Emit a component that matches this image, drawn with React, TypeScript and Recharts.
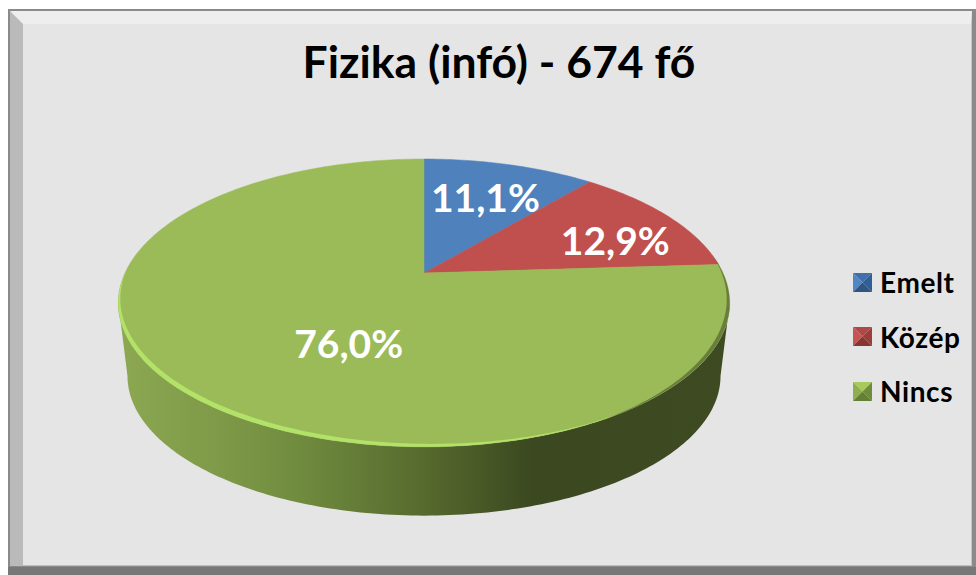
import { PieChart, Pie, Legend } from 'recharts';

const CATEGORIES = ['Emelt', 'Közép', 'Nincs'];
const PERCENTS = [11.1, 12.9, 76.0];
const COLORS = ['#4f81bd', '#c0504d', '#9bbb59'];
// top, left, right, bottom facets of the legend keys
const KEY_FACETS = [
  ['#3f70ac', '#4f86c6', '#2f5f98', '#2f5580'],
  ['#b04845', '#c85452', '#9c3d3a', '#86352f'],
  ['#a6ca5e', '#8fae4f', '#6f8c3c', '#667f36'],
];

const tableData = CATEGORIES.map((name, i) => ({ name, value: PERCENTS[i], fill: COLORS[i] }));

// tilted disc: perspective factor, vertical squash, depth of the side wall
const PERSPECTIVE = 0.208;
const SQUASH = 0.4605;
const WALL_SCALE = 0.97;
const WALL_SHIFT = 74;
const RIGHT_EDGE = 102;
const LEFT_EDGE = 258;

const LABEL_PLACES = [
  { r: 0.62, dx: 5, dy: -4 },
  { r: 0.7, dx: 16, dy: 8 },
  { r: 0.3, dx: -11, dy: 38 },
];

const project = (cx: number, cy: number, radius: number, theta: number, r = 1) => {
  const rad = (theta * Math.PI) / 180;
  const u = r * Math.sin(rad);
  const v = -r * Math.cos(rad);
  const w = 1 - PERSPECTIVE * v;
  return { x: cx + (radius * u) / w, y: cy + (radius * SQUASH * v) / w };
};

const rim = (cx: number, cy: number, radius: number, from: number, to: number) => {
  const pts = [];
  const steps = Math.max(2, Math.ceil(Math.abs(to - from)));
  for (let i = 0; i <= steps; i++) {
    const p = project(cx, cy, radius, from + ((to - from) * i) / steps);
    pts.push(`${p.x.toFixed(2)} ${p.y.toFixed(2)}`);
  }
  return pts;
};

// thin crescent just inside the rim, used for the bevel light and shadow
const bevel = (cx: number, cy: number, radius: number, from: number, to: number, thick: number) => {
  const inner = [];
  for (let t = to; t >= from; t -= 1) {
    const taper = Math.sin((Math.PI * (t - from)) / (to - from));
    const p = project(cx, cy, radius, t, 1 - thick * taper);
    inner.push(`${p.x.toFixed(2)} ${p.y.toFixed(2)}`);
  }
  return `M${rim(cx, cy, radius, from, to).join('L')}L${inner.join('L')}Z`;
};

function DiscSector(props: any) {
  const { cx, cy, outerRadius, startAngle, endAngle, fill } = props;
  const from = 90 - startAngle;
  const to = 90 - endAngle;
  const top = `M${cx} ${cy}L${rim(cx, cy, outerRadius, from, to).join('L')}Z`;
  const hasWall = from <= RIGHT_EDGE && to >= LEFT_EDGE;
  const wallTop = rim(cx, cy, outerRadius, RIGHT_EDGE, LEFT_EDGE);
  const wallBottom = rim(cx, cy + WALL_SHIFT, outerRadius * WALL_SCALE, LEFT_EDGE, RIGHT_EDGE);
  return (
    <g>
      {hasWall && <path d={`M${wallTop.join('L')}L${wallBottom.join('L')}Z`} fill="url(#wallShade)" />}
      <path d={top} fill={fill} stroke={fill} strokeWidth={0.5} />
      {hasWall && (
        <g style={{ filter: 'blur(0.6px)' }}>
          <path d={bevel(cx, cy, outerRadius, 148, 272, 0.019)} fill="#b2e268" />
          <path d={bevel(cx, cy, outerRadius, 82, 150, 0.012)} fill="#3f4c22" fillOpacity={0.55} />
        </g>
      )}
    </g>
  );
}

function SliceLabel(props: any) {
  const { cx, cy, outerRadius, midAngle, value, index } = props;
  const place = LABEL_PLACES[index];
  const p = project(cx, cy, outerRadius, 90 - midAngle, place.r);
  return (
    <text
      x={p.x + place.dx}
      y={p.y + place.dy}
      textAnchor="middle"
      dominantBaseline="central"
      fill="#ffffff"
      fontSize={39}
      fontWeight={700}
      fontFamily="Lato"
    >
      {value.toFixed(1).replace('.', ',')}%
    </text>
  );
}

function LegendKeys() {
  return (
    <div style={{ fontFamily: 'Lato', fontWeight: 700, fontSize: 28, letterSpacing: 0.6, color: '#000' }}>
      {CATEGORIES.map((name, i) => (
        <div key={name} style={{ display: 'flex', alignItems: 'center', height: 54.5 }}>
          <svg width={19} height={19} style={{ marginRight: 8, filter: 'blur(0.5px)' }}>
            <polygon points="0,0 19,0 9.5,9.5" fill={KEY_FACETS[i][0]} />
            <polygon points="0,0 0,19 9.5,9.5" fill={KEY_FACETS[i][1]} />
            <polygon points="19,0 19,19 9.5,9.5" fill={KEY_FACETS[i][2]} />
            <polygon points="0,19 19,19 9.5,9.5" fill={KEY_FACETS[i][3]} />
          </svg>
          <span>{name}</span>
        </div>
      ))}
    </div>
  );
}

export default function App() {
  return (
    <div style={{ position: 'absolute', left: 0, top: 0, width: 976, height: 575, background: '#fff', overflow: 'hidden' }}>
      <div style={{ position: 'absolute', left: 8, top: 9, width: 968, height: 566, background: '#8a8a8a' }} />
      <div
        style={{
          position: 'absolute',
          left: 10,
          top: 11,
          width: 962,
          height: 555,
          boxSizing: 'border-box',
          background: '#e5e5e5',
          borderStyle: 'solid',
          borderWidth: '13px 1px 1px 13px',
          borderColor: '#eeeeee #c4c4c4 #bdbdbd #bababa',
        }}
      />
      <div style={{ position: 'absolute', left: 8, top: 567, width: 968, height: 8, background: '#777777' }} />
      <PieChart
        width={976}
        height={575}
        margin={{ top: 0, right: 0, bottom: 0, left: 0 }}
        style={{ position: 'absolute', left: 0, top: 0 }}
      >
        <defs>
          <linearGradient id="wallShade" gradientUnits="userSpaceOnUse" x1={118} y1={0} x2={730} y2={0}>
            <stop offset="0%" stopColor="#8ca852" />
            <stop offset="16%" stopColor="#7f9a48" />
            <stop offset="30%" stopColor="#6f8b3e" />
            <stop offset="50%" stopColor="#566a2e" />
            <stop offset="68%" stopColor="#3b4820" />
            <stop offset="100%" stopColor="#3e4a22" />
          </linearGradient>
        </defs>
        <text
          x={499}
          y={60}
          textAnchor="middle"
          dominantBaseline="central"
          fontSize={44.5}
          fontWeight={700}
          fontFamily="Lato"
          fill="#000"
        >
          Fizika (infó) - 674 fő
        </text>
        <Pie
          data={tableData}
          dataKey="value"
          nameKey="name"
          cx={424}
          cy={273}
          innerRadius={0}
          outerRadius={299}
          startAngle={90}
          endAngle={-270}
          paddingAngle={0}
          stroke="none"
          shape={DiscSector}
          label={SliceLabel}
          labelLine={false}
          isAnimationActive={false}
        />
        <Legend
          content={<LegendKeys />}
          layout="vertical"
          verticalAlign="middle"
          align="right"
          wrapperStyle={{ left: 853, right: 'auto', top: 255, width: 123 }}
        />
      </PieChart>
    </div>
  );
}
